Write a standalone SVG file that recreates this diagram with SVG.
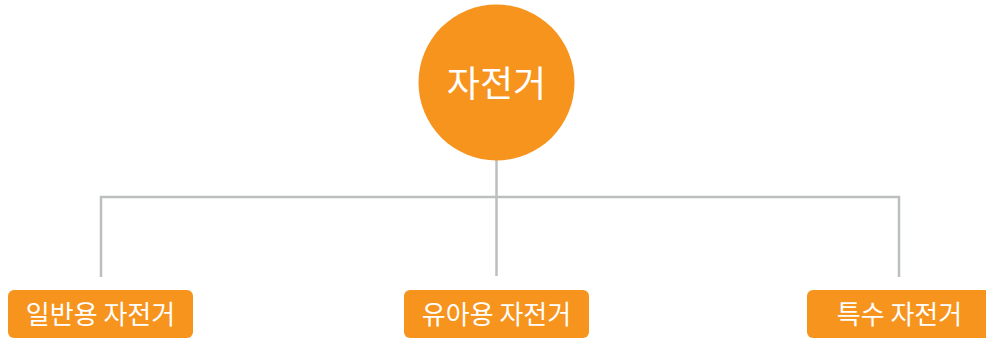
<svg xmlns="http://www.w3.org/2000/svg" width="986" height="340" viewBox="0 0 986 340">
<style>
.node{fill:#F7941E}
.lbl{fill:#ffffff;font-family:"Noto Sans CJK KR","Noto Sans",sans-serif;text-anchor:middle}
.conn{fill:none;stroke:#BCBEC0;stroke-width:2.5}
</style>
<rect width="986" height="340" fill="#ffffff"/>
<g id="connectors">
<path class="conn" d="M496.5,160 V276"/>
<path class="conn" d="M101,277 V197 H899 V277"/>
</g>
<g id="root">
<circle class="node" cx="496.5" cy="82.5" r="78"/>
<text class="lbl" x="496.5" y="97" font-size="36">자전거</text>
</g>
<g id="general">
<rect class="node" x="8" y="290" width="185" height="48" rx="6"/>
<text class="lbl" x="100.5" y="324" font-size="26">일반용 자전거</text>
</g>
<g id="kids">
<rect class="node" x="404" y="290" width="185" height="48" rx="6"/>
<text class="lbl" x="496.5" y="324" font-size="26">유아용 자전거</text>
</g>
<g id="special">
<rect class="node" x="807" y="290" width="185" height="48" rx="6"/>
<text class="lbl" x="899.5" y="324" font-size="26">특수 자전거</text>
</g>
</svg>
